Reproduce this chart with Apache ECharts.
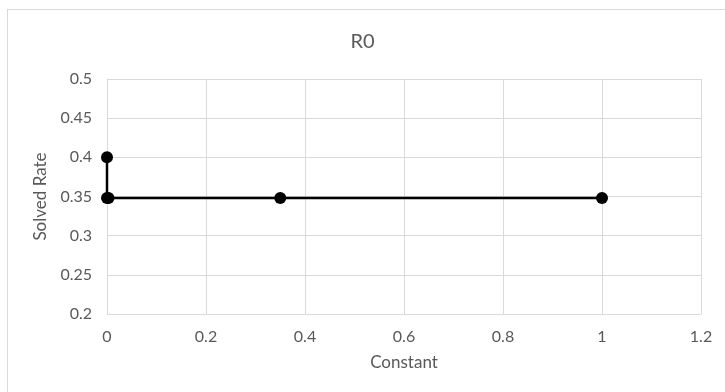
<!DOCTYPE html>
<html>
<head>
<meta charset="utf-8">
<script src="https://cdn.jsdelivr.net/npm/echarts@6/dist/echarts.min.js"></script>
<style>
html,body{margin:0;padding:0;background:#fff;}
#frame{position:absolute;left:7px;top:9px;width:730px;height:400px;border:1px solid #d9d9d9;box-sizing:border-box;}
#chart{position:absolute;left:0;top:0;width:725px;height:392px;}
</style>
</head>
<body>
<div id="frame"></div>
<div id="chart"></div>
<script>
var constantValues = [0, 0, 0.003, 0.35, 1];
var solvedRate = [0.4, 0.348, 0.348, 0.348, 0.348];
var xTicks = [0, 0.2, 0.4, 0.6, 0.8, 1, 1.2];
var yTicks = [0.2, 0.25, 0.3, 0.35, 0.4, 0.45, 0.5];

var points = constantValues.map(function (x, i) { return [x, solvedRate[i]]; });
var font = 'Lato, "Open Sans", sans-serif';
var chart = echarts.init(document.getElementById('chart'), null, {renderer: 'canvas'});
chart.setOption({
  animation: false,
  title: {
    text: 'R0', left: 'center', top: 27,
    textStyle: {fontFamily: font, fontSize: 20, fontWeight: 'normal', color: '#595959'}
  },
  grid: {left: 107, right: 24, top: 79, bottom: 78},
  xAxis: {
    type: 'value', min: 0, max: 1.2, interval: 0.2,
    name: 'Constant', nameLocation: 'middle', nameGap: 40,
    nameTextStyle: {fontFamily: font, fontSize: 17, color: '#595959'},
    axisLine: {show: true, lineStyle: {color: '#d9d9d9'}},
    axisTick: {show: false},
    axisLabel: {fontFamily: font, fontSize: 16, color: '#595959', margin: 15,
      formatter: function (v) { return String(Math.round(v * 10) / 10); }},
    splitLine: {show: true, lineStyle: {color: '#d9d9d9'}}
  },
  yAxis: {
    type: 'value', min: 0.2, max: 0.5, interval: 0.05,
    name: 'Solved Rate', nameLocation: 'middle', nameGap: 54,
    nameTextStyle: {fontFamily: font, fontSize: 17, color: '#595959'},
    axisLine: {show: true, lineStyle: {color: '#d9d9d9'}},
    axisTick: {show: false},
    axisLabel: {fontFamily: font, fontSize: 16, color: '#595959', margin: 15,
      formatter: function (v) { return String(Math.round(v * 100) / 100); }},
    splitLine: {show: true, lineStyle: {color: '#d9d9d9'}}
  },
  series: [{
    type: 'line',
    data: points,
    symbol: 'circle', symbolSize: 12,
    lineStyle: {color: '#000', width: 2.5},
    itemStyle: {color: '#000'}
  }]
});
</script>
</body>
</html>
